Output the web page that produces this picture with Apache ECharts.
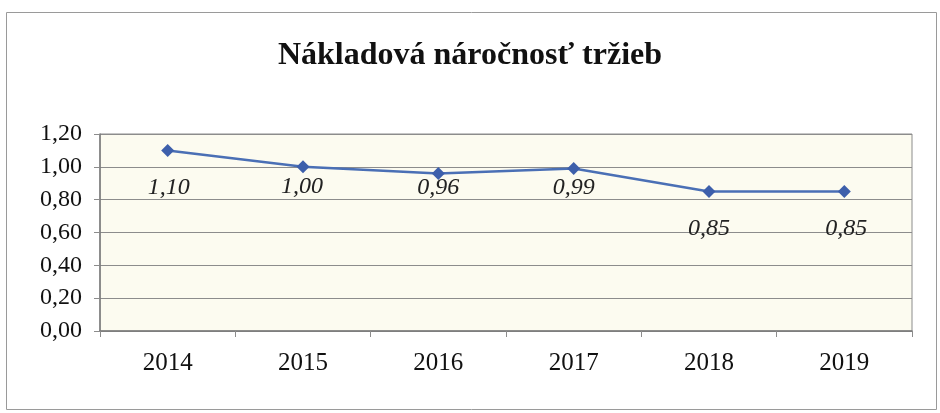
<!DOCTYPE html>
<html>
<head>
<meta charset="utf-8">
<script src="https://cdn.jsdelivr.net/npm/echarts@6/dist/echarts.min.js"></script>
<style>
html,body{margin:0;padding:0;background:#fff;}
#c{width:940px;height:413px;}
</style>
</head>
<body>
<div id="c"></div>
<script>
const title = 'Nákladová náročnosť tržieb';
const years = ['2014', '2015', '2016', '2017', '2018', '2019'];
const values = [1.10, 1.00, 0.96, 0.99, 0.85, 0.85];
const yTicks = [0, 0.2, 0.4, 0.6, 0.8, 1.0, 1.2];

// label placement (style only)
const labelOffsets = [[1, 37], [-1, 20], [0, 14], [0, 19], [0, 37], [2, 37]];

const fmt = v => v.toFixed(2).replace('.', ',');
const serif = '"Liberation Serif", "Times New Roman", serif';

const chart = echarts.init(document.getElementById('c'), null, {renderer: 'canvas'});
chart.setOption({
  animation: false,
  backgroundColor: '#ffffff',
  title: {
    text: title,
    left: 'center',
    top: 35,
    textStyle: {fontFamily: serif, fontWeight: 'bold', fontSize: 32, color: '#111'}
  },
  graphic: [{
    type: 'rect',
    shape: {x: 6.5, y: 12.5, width: 930, height: 397},
    style: {fill: 'none', stroke: '#9a9a9a', lineWidth: 1},
    silent: true,
    z: -1
  }],
  grid: {
    left: 100, right: 28, top: 134, bottom: 82,
    show: true,
    backgroundColor: '#fcfbf0',
    borderColor: '#8c8c8c',
    borderWidth: 1
  },
  xAxis: {
    type: 'category',
    data: years,
    boundaryGap: true,
    axisLine: {lineStyle: {color: '#7a7a7a', width: 1.5}},
    axisTick: {show: true, length: 6, alignWithLabel: false, lineStyle: {color: '#8c8c8c'}},
    axisLabel: {fontFamily: serif, fontSize: 25, color: '#111', margin: 20}
  },
  yAxis: {
    type: 'value',
    min: yTicks[0],
    max: yTicks[yTicks.length - 1],
    interval: 0.2,
    axisLine: {show: true, lineStyle: {color: '#7a7a7a', width: 1.5}},
    axisTick: {show: true, length: 6, lineStyle: {color: '#8c8c8c'}},
    splitLine: {show: true, lineStyle: {color: '#8c8c8c', width: 1}},
    axisLabel: {fontFamily: serif, fontSize: 24, color: '#111', margin: 18, formatter: v => fmt(v)}
  },
  series: [{
    type: 'line',
    data: values.map((v, i) => ({
      value: v,
      label: {offset: labelOffsets[i]}
    })),
    symbol: 'diamond',
    symbolSize: 13,
    lineStyle: {color: '#4a6fb5', width: 2.5},
    itemStyle: {color: '#3d5fab'},
    label: {
      show: true,
      position: 'inside',
      formatter: p => fmt(p.value),
      fontFamily: serif,
      fontStyle: 'italic',
      fontSize: 24,
      color: '#222'
    }
  }]
});
</script>
</body>
</html>
